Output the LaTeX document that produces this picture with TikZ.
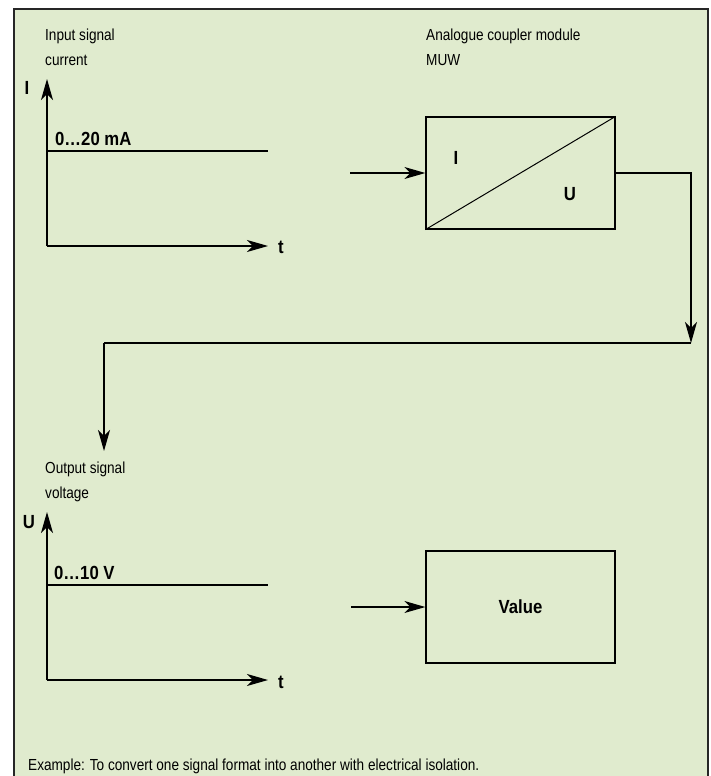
\documentclass[tikz,border=0pt]{standalone}
\usepackage{fontspec}
\setmainfont{Liberation Sans}[FakeStretch=0.85,BoldFeatures={FakeStretch=0.88}]
\usetikzlibrary{arrows.meta,positioning}
\definecolor{panel}{HTML}{E0EBCE}

\begin{document}
\begin{tikzpicture}[x=1pt,y=-1pt,
    sig/.style={-{Stealth[length=21pt,width=12pt,inset=6pt]},line width=1.3pt},
    txt/.style={font=\fontsize{16}{25}\selectfont,inner sep=0pt,align=left,anchor=north west},
    lbl/.style={font=\fontsize{19}{22}\selectfont\bfseries,inner sep=0pt},
    blk/.style={draw,line width=1.3pt,minimum width=189pt,minimum height=112pt,inner sep=0pt}]
        \useasboundingbox (0,0) rectangle (710,776);
        \fill[panel] (14,9) rectangle (708,776);
        \draw[line width=1.8pt,black!85] (14,776) -- (14,9) -- (708,9) -- (708,776);
        % input signal
        \node[txt] (inTitle) at (45,29) {Input signal\\current};
        \coordinate (iO) at (47,246);
        \coordinate (iTop) at (47,79);
        \coordinate (iEnd) at (268,246);
        \draw[sig] (iO) -- (iTop);
        \draw[sig] (iO) -- (iEnd);
        \node[lbl,anchor=base] (iLbl) at (27,94) {I};
        \node[lbl,anchor=base west] (tLbl) at (278,253) {t};
        \draw[line width=1.3pt] (47,151) -- (268,151);
        \node[lbl,anchor=base west] (iRange) at (55,145) {0…20 mA};
        % coupler module
        \node[txt] (convTitle) at (426,29) {Analogue coupler module\\MUW};
        \node[blk] (conv) at (520.5,173) {};
        \draw[line width=1pt] (conv.south west) -- (conv.north east);
        \node[lbl,anchor=base] (convI) at (456,164) {I};
        \node[lbl,anchor=base] (convU) at (570,200) {U};
        \coordinate (inFeed) at (350,173);
        \draw[sig] (inFeed) -- (conv);
        \coordinate (turnR) at (691,343);
        \coordinate (turnL) at (104,343);
        \coordinate (outDrop) at (104,451);
        \draw[sig] (conv.east) -| (turnR);
        \draw[line width=1.3pt] (turnR) -- (turnL);
        \draw[sig] (turnL) -- (outDrop);
        % output signal
        \node[txt] (outTitle) at (45,462) {Output signal\\voltage};
        \coordinate (uO) at (47,680);
        \coordinate (uTop) at (47,512);
        \coordinate (uEnd) at (268,680);
        \draw[sig] (uO) -- (uTop);
        \draw[sig] (uO) -- (uEnd);
        \node[lbl,anchor=base] (uLbl) at (29,528) {U};
        \node[lbl,anchor=base west] (tLbl2) at (278,688) {t};
        \draw[line width=1.3pt] (47,585) -- (268,585);
        \node[lbl,anchor=base west] (uRange) at (54,579) {0…10 V};
        \node[blk,lbl] (val) at (520.5,607) {Value};
        \coordinate (valFeed) at (351,607);
        \draw[sig] (valFeed) -- (val);
        \node[font=\fontsize{16}{18}\selectfont,inner sep=0pt,anchor=base west] (note) at (28,770)
            {Example: To convert one signal format into another with electrical isolation.};
\end{tikzpicture}
\end{document}
